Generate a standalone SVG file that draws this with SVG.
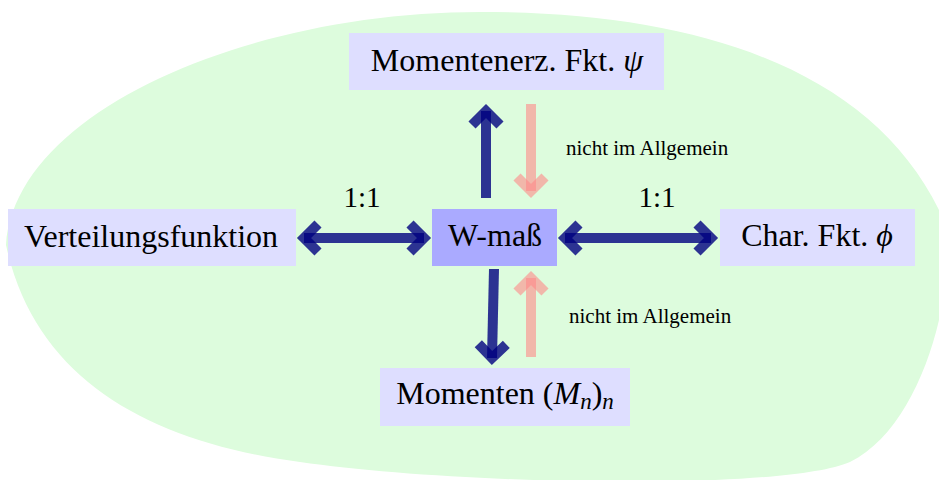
<svg xmlns="http://www.w3.org/2000/svg" width="939" height="480" viewBox="0 0 939 480">
<style>
.box{fill:#dedeff}
.center{fill:#aaaaff}
text{font-family:'Liberation Serif','Times New Roman',serif;fill:#000}
.t{font-size:32px;text-anchor:middle}
.r{font-size:29px;text-anchor:middle}
.s{font-size:21px}
.blue{stroke:#000080;stroke-opacity:0.8;stroke-width:10;fill:none}
.pink{stroke:#ff8888;stroke-opacity:0.6;stroke-width:10;fill:none}
</style>
<defs>
<marker id="hb" markerUnits="userSpaceOnUse" markerWidth="40" markerHeight="40" refX="0" refY="0" orient="auto-start-reverse" overflow="visible">
<path d="M-14,-14 L0,0 L-14,14" stroke="#000080" stroke-opacity="0.8" stroke-width="10" fill="none" stroke-linejoin="miter"/>
</marker>
<marker id="hp" markerUnits="userSpaceOnUse" markerWidth="40" markerHeight="40" refX="0" refY="0" orient="auto-start-reverse" overflow="visible">
<path d="M-14,-14 L0,0 L-14,14" stroke="#ff8888" stroke-opacity="0.6" stroke-width="10" fill="none" stroke-linejoin="miter"/>
</marker>
</defs>
<path id="blob" d="M6,245 C15,110 250,12 480,12 C700,12 870,70 939,210 L939,320 C925,380 895,440 850,462 C780,492 450,484 300,462 C150,442 35,380 6,245 Z" fill="#ddfcdd"/>
<g id="connectors">
<path class="blue" d="M304,238 L424,238" marker-start="url(#hb)" marker-end="url(#hb)"/>
<path class="blue" d="M565,238 L711,238" marker-start="url(#hb)" marker-end="url(#hb)"/>
<path class="blue" d="M486,198 L486,111" marker-end="url(#hb)"/>
<path class="pink" d="M531,104 L531,191" marker-end="url(#hp)"/>
<path class="blue" d="M494,269 L492,358" marker-end="url(#hb)"/>
<path class="pink" d="M531,357 L531,278" marker-end="url(#hp)"/>
<text class="r" x="362" y="207">1:1</text>
<text class="r" x="657" y="207">1:1</text>
<text class="s" x="566" y="155">nicht im Allgemein</text>
<text class="s" x="569" y="323">nicht im Allgemein</text>
</g>
<g id="node-mgf">
<rect class="box" x="349" y="33" width="315" height="57"/>
<text class="t" x="507" y="71">Momentenerz. Fkt. <tspan font-style="italic">ψ</tspan></text>
</g>
<g id="node-wmass">
<rect class="center" x="432" y="209" width="125" height="57"/>
<text class="t" x="495" y="246">W-maß</text>
</g>
<g id="node-vf">
<rect class="box" x="8" y="209" width="288" height="57"/>
<text class="t" x="151" y="247">Verteilungsfunktion</text>
</g>
<g id="node-cf">
<rect class="box" x="720" y="209" width="195" height="57"/>
<text class="t" x="817" y="246">Char. Fkt. <tspan font-style="italic">ϕ</tspan></text>
</g>
<g id="node-mom">
<rect class="box" x="380" y="368" width="250" height="58"/>
<text class="t" x="505" y="404">Momenten (<tspan font-style="italic">M</tspan><tspan font-style="italic" font-size="23" dy="5">n</tspan><tspan dy="-5">)</tspan><tspan font-style="italic" font-size="23" dy="5">n</tspan></text>
</g>
</svg>
